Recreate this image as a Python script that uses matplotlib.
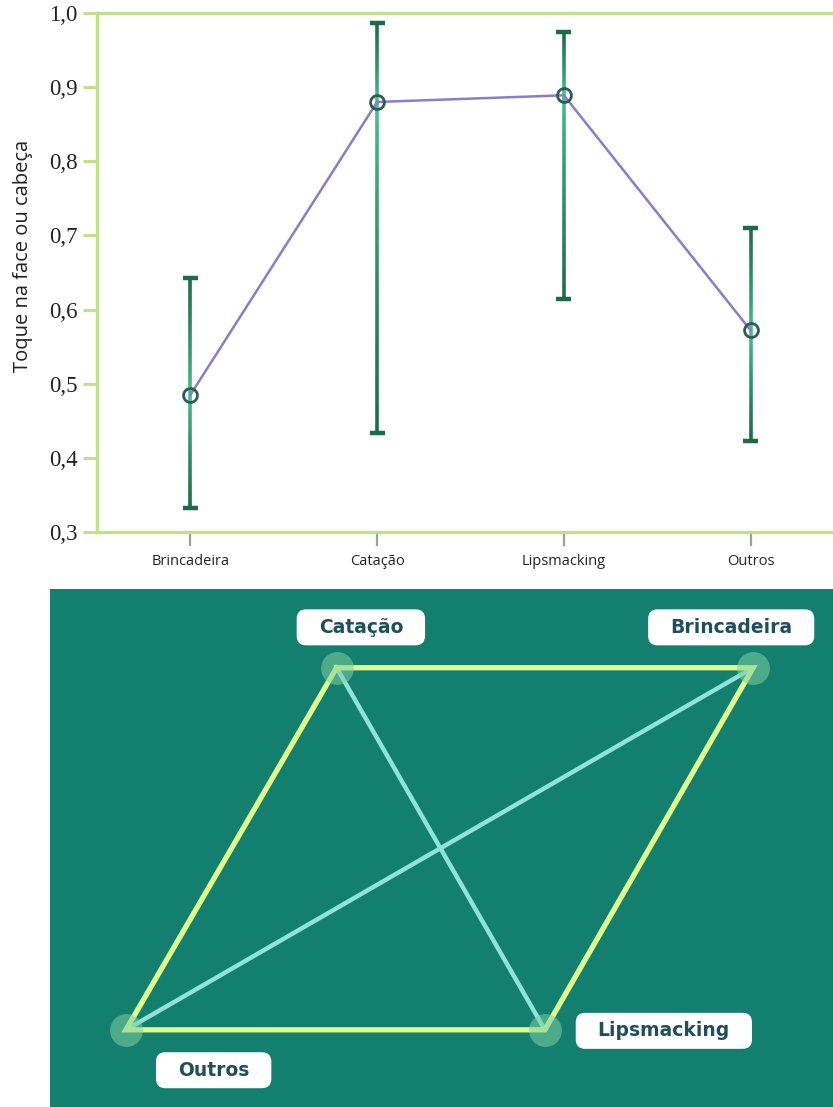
import matplotlib
matplotlib.use('Agg')
import matplotlib.pyplot as plt
import numpy as np
from matplotlib.collections import LineCollection
from matplotlib.colors import to_rgb
from matplotlib.patches import FancyBboxPatch
from matplotlib.ticker import FuncFormatter

categories = ['Brincadeira', 'Catação', 'Lipsmacking', 'Outros']
means = [0.485, 0.880, 0.889, 0.572]
ci_low = [0.332, 0.434, 0.614, 0.423]
ci_high = [0.643, 0.986, 0.974, 0.710]

# network: nodes placed on a normalised panel, edges by type
node_names = ['Catação', 'Brincadeira', 'Outros', 'Lipsmacking']
node_x = [0.366, 0.898, 0.097, 0.632]
node_y = [0.848, 0.848, 0.149, 0.149]
outer_edges = [('Catação', 'Brincadeira'), ('Brincadeira', 'Lipsmacking'),
               ('Lipsmacking', 'Outros'), ('Outros', 'Catação')]
cross_edges = [('Catação', 'Lipsmacking'), ('Brincadeira', 'Outros')]
label_offset = {'Catação': (0.031, 0.078), 'Brincadeira': (-0.028, 0.078),
                'Outros': (0.112, -0.078), 'Lipsmacking': (0.152, -0.002)}

spine_col = '#c3df87'
dark_bar = '#1b6b47'
light_bar = '#45c58e'

fig = plt.figure(figsize=(8.33, 11.07), dpi=100)
W, H = 833, 1107

ax = fig.add_axes([97 / W, 1 - 532 / H, 747 / W, 519 / H])
xs = np.arange(len(categories))


def gradient_bar(ax, x, lo, mid, hi, n=60):
    c0, c1 = np.array(to_rgb(dark_bar)), np.array(to_rgb(light_bar))
    for a, b in [(lo, mid), (mid, hi)]:
        ys = np.linspace(a, b, n + 1)
        segs = [[(x, ys[i]), (x, ys[i + 1])] for i in range(n)]
        t = np.abs((ys[:-1] + ys[1:]) / 2 - mid) / max(abs(b - a), 1e-9)
        t = np.clip(t, 0, 1) ** 0.8
        cols = [tuple(c1 * (1 - k) + c0 * k) for k in t]
        ax.add_collection(LineCollection(segs, colors=cols, linewidths=2.6,
                                         capstyle='butt', zorder=2))
    for y in (lo, hi):
        ax.plot([x - 0.04, x + 0.04], [y, y], color=dark_bar, lw=3.2,
                solid_capstyle='butt', zorder=2)


for x, lo, m, hi in zip(xs, ci_low, means, ci_high):
    gradient_bar(ax, x, lo, m, hi)

ax.plot(xs, means, color='#8b7bcb', lw=1.8, zorder=3)
ax.plot(xs, means, 'o', ms=10, mfc='none', mec='#2c5c5a', mew=2.0, zorder=4)

ax.set_xlim(-0.5, 3.5)
ax.set_ylim(0.3, 1.0)
ax.set_yticks(np.arange(0.3, 1.01, 0.1))
ax.yaxis.set_major_formatter(FuncFormatter(lambda v, p: f'{v:.1f}'.replace('.', ',')))
ax.set_xticks(xs)
ax.set_xticklabels(categories, fontfamily='Open Sans', fontsize=10.5, color='#222222')
for lab in ax.get_yticklabels():
    lab.set_fontfamily('Liberation Serif')
    lab.set_fontsize(16.5)
    lab.set_color('#222222')
ax.tick_params(axis='y', length=10, width=2.2, color=spine_col, pad=4)
ax.tick_params(axis='x', length=10, width=1.6, color='#8fa98f', pad=6)
ax.set_ylabel('Toque na face ou cabeça', fontfamily='Open Sans', fontsize=14.5,
              color='#222222')
ax.yaxis.set_label_coords(-0.086, 0.532)
for side in ['left', 'top', 'bottom']:
    ax.spines[side].set_color(spine_col)
    ax.spines[side].set_linewidth(2.4)
ax.spines['right'].set_visible(False)

# lower panel: network diagram on teal background
ax2 = fig.add_axes([50 / W, 0, 783 / W, 518 / H])
ax2.set_facecolor('#137f6e')
ax2.set_xlim(0, 1)
ax2.set_ylim(0, 1)
ax2.set_xticks([])
ax2.set_yticks([])
for s in ax2.spines.values():
    s.set_visible(False)

pos = {n: (x, y) for n, x, y in zip(node_names, node_x, node_y)}
for a, b in cross_edges:
    ax2.plot([pos[a][0], pos[b][0]], [pos[a][1], pos[b][1]],
             color='#8fe3da', lw=3.2, solid_capstyle='round', zorder=2)
outer = [pos[a] for a, b in outer_edges] + [pos[outer_edges[0][0]]]
ax2.plot([p[0] for p in outer], [p[1] for p in outer], color='#e0fb8c', lw=3.8,
         solid_joinstyle='miter', zorder=3)
for n in node_names:
    ax2.scatter(*pos[n], s=560, color='#7fd0a2', alpha=0.55, lw=0, zorder=4)

fig.canvas.draw()
renderer = fig.canvas.get_renderer()
inv = ax2.transData.inverted()
for n in node_names:
    dx, dy = label_offset[n]
    tx, ty = pos[n][0] + dx, pos[n][1] + dy
    t = ax2.text(tx, ty, n, ha='center', va='center', fontfamily='DejaVu Sans',
                 fontweight='bold', fontsize=13.5, color='#1f4e5c', zorder=6)
    bb = t.get_window_extent(renderer)
    cy = (bb.y0 + bb.y1) / 2
    (x0, y0), (x1, y1) = inv.transform([(bb.x0 - 22, cy - 18),
                                        (bb.x1 + 22, cy + 18)])
    ax2.add_patch(FancyBboxPatch((x0, y0), x1 - x0, y1 - y0,
                                 boxstyle='round,pad=0,rounding_size=0.012',
                                 fc='white', ec='none', zorder=5,
                                 mutation_aspect=783 / 518))

fig.savefig('out.png', dpi=100)
